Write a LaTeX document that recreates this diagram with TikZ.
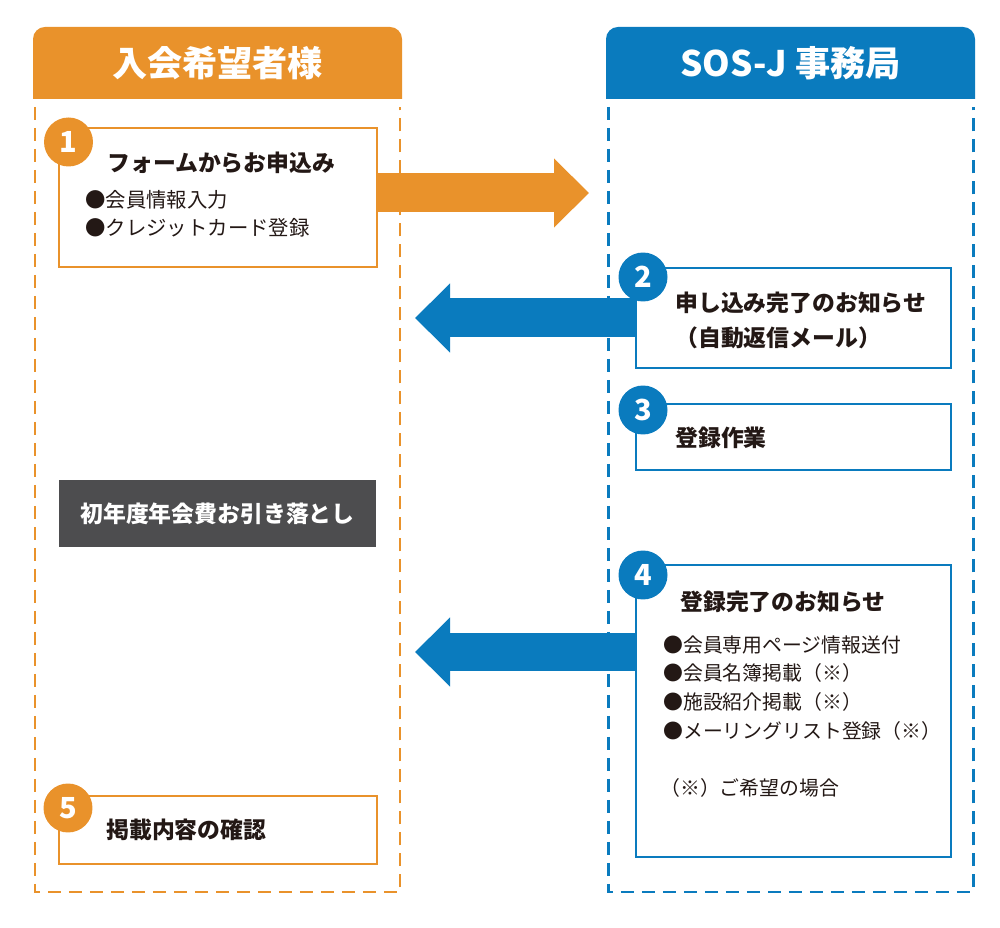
\documentclass[tikz,border=0pt]{standalone}
\usepackage{fontspec}
\setmainfont{Noto Sans CJK JP}
\usetikzlibrary{positioning,fit,arrows.meta}
\definecolor{sosorange}{HTML}{E9922B}
\definecolor{sosblue}{HTML}{0A7BBE}
\definecolor{sosgray}{HTML}{4D4D4F}
\definecolor{sosink}{HTML}{231815}

\begin{document}
\begin{tikzpicture}[x=0.02cm,y=-0.02cm,
		every node/.style={inner sep=0pt, text=sosink},
		obox/.style={draw=sosorange, line width=1.4pt, inner sep=0pt},
		bbox/.style={draw=sosblue, line width=1.4pt, inner sep=0pt},
		num/.style={circle, minimum size=0.98cm, font=\fontsize{16.5}{16.5}\selectfont\bfseries, text=white},
		head/.style={font=\fontsize{20}{22}\selectfont\bfseries, text=white},
		title/.style={font=\fontsize{13}{16}\selectfont\bfseries, anchor=west},
		item/.style={font=\fontsize{11.6}{15.9}\selectfont, anchor=west, align=left},
		frame/.style={line width=1.7pt, dash pattern=on 0.26cm off 0.16cm},
		bigarrow/.style={line width=0.78cm, -{Triangle[length=0.70cm,width=1.34cm]}},
	]
	\useasboundingbox (0,0) rectangle (1000,928);

	% column heads and frames
	\fill[sosorange] (33,99) [rounded corners=0.24cm] -- (33,27) -- (402,27) [sharp corners] -- (402,99) -- cycle;
	\fill[sosblue] (606,99) [rounded corners=0.24cm] -- (606,27) -- (975,27) [sharp corners] -- (975,99) -- cycle;
	\node (memberhead) [head] at (217.5,63) {入会希望者様};
	\node (officehead) [head] at (790.5,63) {SOS-J 事務局};
	\draw[frame, sosorange] (35,107) -- (35,892) -- (400,892) -- (400,107);
	\draw[frame, sosblue] (608,107) -- (608,892) -- (973,892) -- (973,107);

	% member side
	\node (apply) [obox, fit={(59,128) (377,267)}] {};
	\node (applyt) [title] at (107,163) {フォームからお申込み};
	\node (applyi) [item] at (85,214) {●会員情報入力\\●クレジットカード登録};
	\node (n1) [num, fill=sosorange] at (68.5,142) {1};

	\node (fee) [fill=sosgray, fit={(59,480) (376,547)}] {};
	\node (feet) [font=\fontsize{13}{16}\selectfont\bfseries, text=white] at (fee.center) {初年度年会費お引き落とし};

	\node (check) [obox, fit={(59,796) (377,864)}] {};
	\node (checkt) [title] at (106,830) {掲載内容の確認};
	\node (n5) [num, fill=sosorange] at (68,808) {5};

	% office side
	\node (notice) [bbox, fit={(636,268) (951,368)}] {};
	\node (noticet) [title, align=left, font=\fontsize{13}{20}\selectfont\bfseries] at (675,320) {申し込み完了のお知らせ\\（自動返信メール）};
	\node (n2) [num, fill=sosblue] at (643,277) {2};

	\node (register) [bbox, fit={(636,404) (951,470)}] {};
	\node (registert) [title] at (675,438) {登録作業};
	\node (n3) [num, fill=sosblue] at (643,410) {3};

	\node (done) [bbox, fit={(636,565) (951,857)}] {};
	\node (donet) [title] at (680,602) {登録完了のお知らせ};
	\node (donei) [item, font=\fontsize{11.3}{16.4}\selectfont] at (663,688) {●会員専用ページ情報送付\\●会員名簿掲載（※）\\●施設紹介掲載（※）\\●メーリングリスト登録（※）};
	\node (donen) [item, font=\fontsize{11.3}{16.4}\selectfont] at (660,788) {（※）ご希望の場合};
	\node (n4) [num, fill=sosblue] at (643,575) {4};

	% arrows
	\coordinate (tip1) at (589,193);
	\coordinate (tip2) at (415,318);
	\coordinate (tip3) at (415,652);
	\draw[bigarrow, sosorange] (apply.east |- tip1) -- (tip1);
	\draw[bigarrow, sosblue] (notice.west |- tip2) -- (tip2);
	\draw[bigarrow, sosblue] (done.west |- tip3) -- (tip3);

\end{tikzpicture}
\end{document}
